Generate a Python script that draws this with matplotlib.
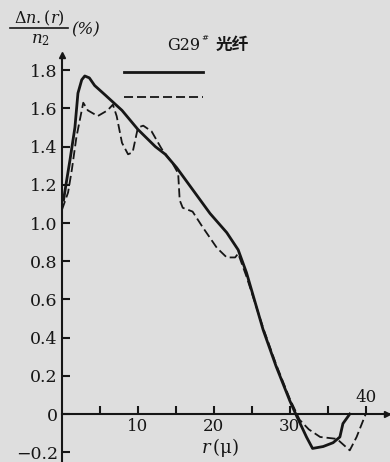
import matplotlib
matplotlib.use("Agg")
import matplotlib.pyplot as plt

# data
solid_r = [0.2, 0.6, 1.05, 1.7, 2.1, 2.6, 3.0, 3.6, 4.3, 5.7, 7.9, 10.0, 12.3, 13.6,
           15.1, 17.3, 19.5, 21.7, 23.2, 24.3, 26.5, 28.2, 30.0, 30.9, 32.2, 33.0,
           34.4, 35.7, 36.6, 37.0, 37.9]
solid_v = [1.12, 1.22, 1.33, 1.50, 1.68, 1.75, 1.77, 1.76, 1.72, 1.67, 1.59, 1.49,
           1.40, 1.36, 1.29, 1.17, 1.05, 0.95, 0.86, 0.74, 0.44, 0.25, 0.07, -0.01,
           -0.12, -0.18, -0.17, -0.15, -0.12, -0.05, 0.0]

dashed_r = [0.0, 0.8, 1.3, 1.9, 2.8, 3.4, 4.7, 6.0, 6.7, 7.2, 7.9, 8.7, 9.3, 10.0,
            10.7, 11.8, 13.1, 14.6, 15.3, 15.5, 15.9, 17.2, 18.5, 20.4, 21.7, 22.8,
            23.2, 24.3, 26.5, 28.2, 30.0, 31.3, 32.5, 34.0, 36.2, 37.9, 38.8, 39.6,
            40.0]
dashed_v = [1.07, 1.16, 1.28, 1.45, 1.63, 1.59, 1.56, 1.59, 1.62, 1.56, 1.42, 1.36,
            1.37, 1.50, 1.51, 1.48, 1.39, 1.31, 1.26, 1.12, 1.08, 1.06, 0.98, 0.87,
            0.82, 0.82, 0.84, 0.72, 0.45, 0.26, 0.08, -0.03, -0.08, -0.12, -0.13,
            -0.19, -0.12, -0.04, 0.0]

y_ticks = [-0.2, 0.0, 0.2, 0.4, 0.6, 0.8, 1.0, 1.2, 1.4, 1.6, 1.8]
y_labels = ["\u22120.2", "0", "0.2", "0.4", "0.6", "0.8", "1.0", "1.2", "1.4", "1.6", "1.8"]
x_ticks = [5, 10, 15, 20, 25, 30, 35, 40]
x_labels = ["", "10", "", "20", "", "30", "", ""]

W, H = 390, 462
bg = "#dedede"
ink = "#161616"
serif = ["DejaVu Serif"]

fig = plt.figure(figsize=(W / 100, H / 100), dpi=100, facecolor=bg)
ax = fig.add_axes([62 / W, 0, 328 / W, 412 / H])
ax.set_facecolor(bg)
ax.set_xlim(0, 43.2)
ax.set_ylim(-0.251, 1.906)

ax.plot(solid_r, solid_v, color=ink, lw=2.0, solid_joinstyle="round")
ax.plot(dashed_r, dashed_v, color=ink, lw=1.3, dashes=(5, 2.2))

for s in ["top", "right"]:
    ax.spines[s].set_visible(False)
ax.spines["bottom"].set_position(("data", 0))
ax.spines["left"].set_bounds(-0.25, 1.86)
ax.spines["left"].set_linewidth(1.5)
ax.spines["bottom"].set_linewidth(1.5)
ax.spines["left"].set_color(ink)
ax.spines["bottom"].set_color(ink)
# arrows
ax.plot([0], [1.88], marker="^", color=ink, ms=5, clip_on=False)
ax.plot([42.8], [0], marker=">", color=ink, ms=5, clip_on=False)

ax.set_yticks(y_ticks)
ax.set_yticklabels(y_labels, fontfamily=serif, fontsize=12.5)
ax.set_xticks(x_ticks)
ax.set_xticklabels(x_labels, fontfamily=serif, fontsize=12)
ax.tick_params(axis="y", direction="in", length=6, width=1.5, color=ink, pad=3, labelcolor=ink)
ax.tick_params(axis="x", direction="in", length=6, width=1.5, color=ink, pad=3, labelcolor=ink)

ax.text(40, 0.04, "40", fontfamily=serif, fontsize=12, ha="center", va="bottom", color=ink)
ax.text(20.8, -0.175, "$r\\,$(\u03bc)", fontfamily=serif, fontsize=13, ha="center", va="center",
        color=ink, math_fontfamily="dejavuserif")

# legend lines
ax.plot([8.1, 18.6], [1.79, 1.79], color=ink, lw=2.0)
ax.plot([8.1, 18.6], [1.66, 1.66], color=ink, lw=1.3, dashes=(5, 2.2))

# title
fig.text(167 / W, 1 - 45 / H, "G29", fontfamily=serif, fontsize=11.5, ha="left", va="center", color=ink)
fig.text(201 / W, 1 - 38 / H, "#", fontfamily=serif, fontsize=6, ha="left", va="center", color=ink)
fig.text(216 / W, 1 - 45 / H, "光纤", fontfamily=["Noto Sans CJK SC"], fontsize=12,
         fontweight="bold", ha="left", va="center", color=ink)

# y label
fig.text(39 / W, 1 - 18 / H, "$\\Delta n.(r)$", fontsize=11.5, ha="center", va="center", color=ink,
         math_fontfamily="dejavuserif")
fig.add_artist(plt.Line2D([10 / W, 68 / W], [1 - 28 / H, 1 - 28 / H], color=ink, lw=1.2))
fig.text(40 / W, 1 - 39 / H, "$n_2$", fontsize=12, ha="center", va="center", color=ink,
         math_fontfamily="dejavuserif")
fig.text(86 / W, 1 - 30 / H, "(%)", fontfamily=serif, fontsize=12, style="italic",
         ha="center", va="center", color=ink)

fig.savefig("out.png", dpi=100, facecolor=bg)
